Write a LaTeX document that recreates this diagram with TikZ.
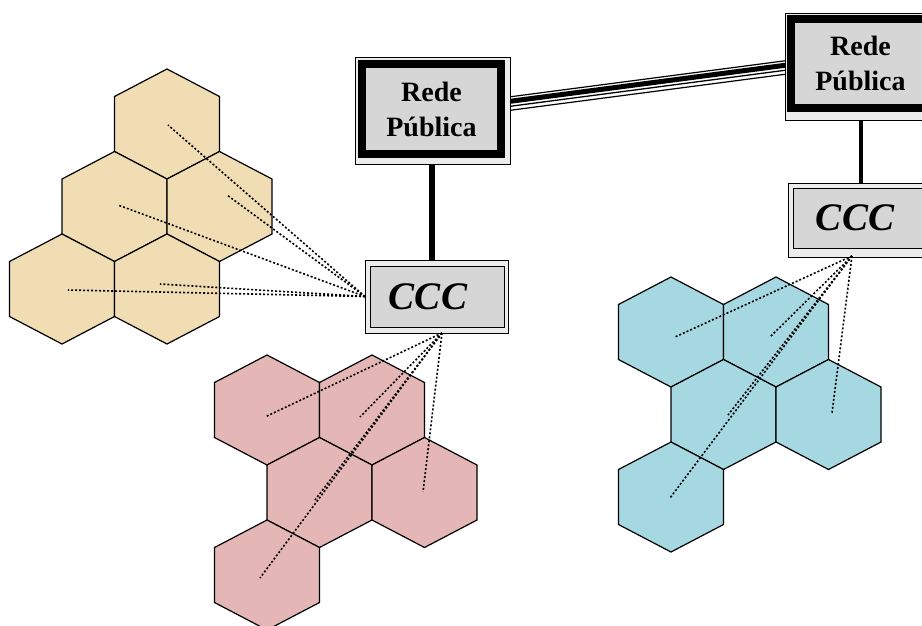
\documentclass[tikz,border=0pt]{standalone}
\usepackage{fontspec}
\setmainfont{Liberation Serif}
\usetikzlibrary{backgrounds}
\definecolor{tanfill}{RGB}{240,221,180}
\definecolor{pinkfill}{RGB}{228,182,182}
\definecolor{bluefill}{RGB}{166,216,226}
\definecolor{boxgray}{RGB}{214,214,214}
\definecolor{stripgray}{RGB}{236,236,236}
\tikzset{
  hexedge/.style={draw=black, line width=1.2pt, line join=miter},
  pics/hexa/.style={code={\path[hexedge, fill=#1] (0,-55) -- (52.5,-27.5) -- (52.5,27.5) -- (0,55) -- (-52.5,27.5) -- (-52.5,-27.5) -- cycle;}},
  redebox/.style={rectangle, draw=black, line width=8pt, fill=boxgray, minimum width=139pt, outer sep=0pt, inner sep=0pt, align=center, font=\bfseries\fontsize{28}{35}\selectfont},
  cccbox/.style={rectangle, draw=black, line width=1pt, fill=boxgray, minimum width=134pt, outer sep=0pt, inner sep=0pt, font=\bfseries\itshape\fontsize{39}{40}\selectfont},
  outerframe/.style={draw=black, line width=1pt, fill=stripgray},
  trunk/.style={draw=black, line width=#1},
  radio/.style={draw=black, line width=1.6pt, dash pattern=on 2pt off 2pt},
}
\begin{document}
\begin{tikzpicture}[x=1pt,y=-1pt]
\useasboundingbox (0,0) rectangle (922,625);
% tan cluster
\pic at (167,124) {hexa=tanfill};
\pic at (114.5,206.5) {hexa=tanfill};
\pic at (219.5,206.5) {hexa=tanfill};
\pic at (62,289) {hexa=tanfill};
\pic at (167,289) {hexa=tanfill};
% pink cluster
\pic at (267,410) {hexa=pinkfill};
\pic at (372,410) {hexa=pinkfill};
\pic at (319.5,492.5) {hexa=pinkfill};
\pic at (424.5,492.5) {hexa=pinkfill};
\pic at (267,575) {hexa=pinkfill};
% blue cluster
\pic at (671,332) {hexa=bluefill};
\pic at (776,332) {hexa=bluefill};
\pic at (723.5,414.5) {hexa=bluefill};
\pic at (828.5,414.5) {hexa=bluefill};
\pic at (671,497) {hexa=bluefill};
% boxes
\node[redebox, minimum height=90pt] (rede1) at (431.5,109) {Rede\\Pública};
\node[redebox, minimum height=89pt] (rede2) at (860.5,63.5) {Rede\\Pública};
\node[cccbox, minimum height=61pt] (ccc1) at (437,296.5) {CCC\hspace*{18pt}};
\node[cccbox, minimum height=60pt] (ccc2) at (860,218) {CCC\hspace*{10pt}};
\begin{pgfonlayer}{background}
  \fill[white] (0,0) rectangle (922,625);
  \draw[trunk=6pt] (rede1.south) -- (rede1.south |- ccc1.north);
  \draw[trunk=4pt] (rede2.south) -- (rede2.south |- ccc2.north);
  \coordinate (pa) at ([yshift=4pt]rede1.east);
  \coordinate (pb) at ([yshift=-3.5pt]rede2.west);
  \draw[line width=1.2pt, transform canvas={yshift=7pt}] (pa) -- (pb);
  \draw[line width=5pt, transform canvas={yshift=2.5pt}] (pa) -- (pb);
  \draw[line width=1.3pt, transform canvas={yshift=-2.5pt}] (pa) -- (pb);
  \draw[line width=1.2pt, transform canvas={yshift=-6.5pt}] (pa) -- (pb);
  \path[outerframe] ([shift={(-7,-7)}]rede1.north west) rectangle ([shift={(9,10)}]rede1.south east);
  \path[outerframe] ([shift={(-6,-6)}]rede2.north west) rectangle ([shift={(9,12)}]rede2.south east);
  \path[outerframe] ([shift={(-5,-6)}]ccc1.north west) rectangle ([shift={(4,6)}]ccc1.south east);
  \path[outerframe] ([shift={(-5,-5)}]ccc2.north west) rectangle ([shift={(5,9)}]ccc2.south east);
\end{pgfonlayer}
% radio links
\coordinate (s1) at ([xshift=-5pt]ccc1.west);
\coordinate (s2) at ([shift={(5,6)}]ccc1.south);
\coordinate (s3) at ([shift={(-8,8)}]ccc2.south);
\coordinate (ta) at (168,125);
\coordinate (tb) at (227,195);
\coordinate (tc) at (118,205);
\coordinate (td) at (68,290);
\coordinate (te) at (160,284);
\coordinate (pa1) at (265,417);
\coordinate (pb1) at (360,417);
\coordinate (pc1) at (315,500);
\coordinate (pd1) at (423,492);
\coordinate (pe1) at (260,578);
\coordinate (ba) at (675,337);
\coordinate (bb) at (770,337);
\coordinate (bc) at (728,415);
\coordinate (bd) at (832,413);
\coordinate (be) at (670,498);
\foreach \e in {ta,tb,tc,td,te} \draw[radio] (s1) -- (\e);
\foreach \e in {pa1,pb1,pc1,pd1,pe1} \draw[radio] (s2) -- (\e);
\foreach \e in {ba,bb,bc,bd,be} \draw[radio] (s3) -- (\e);
\end{tikzpicture}
\end{document}
